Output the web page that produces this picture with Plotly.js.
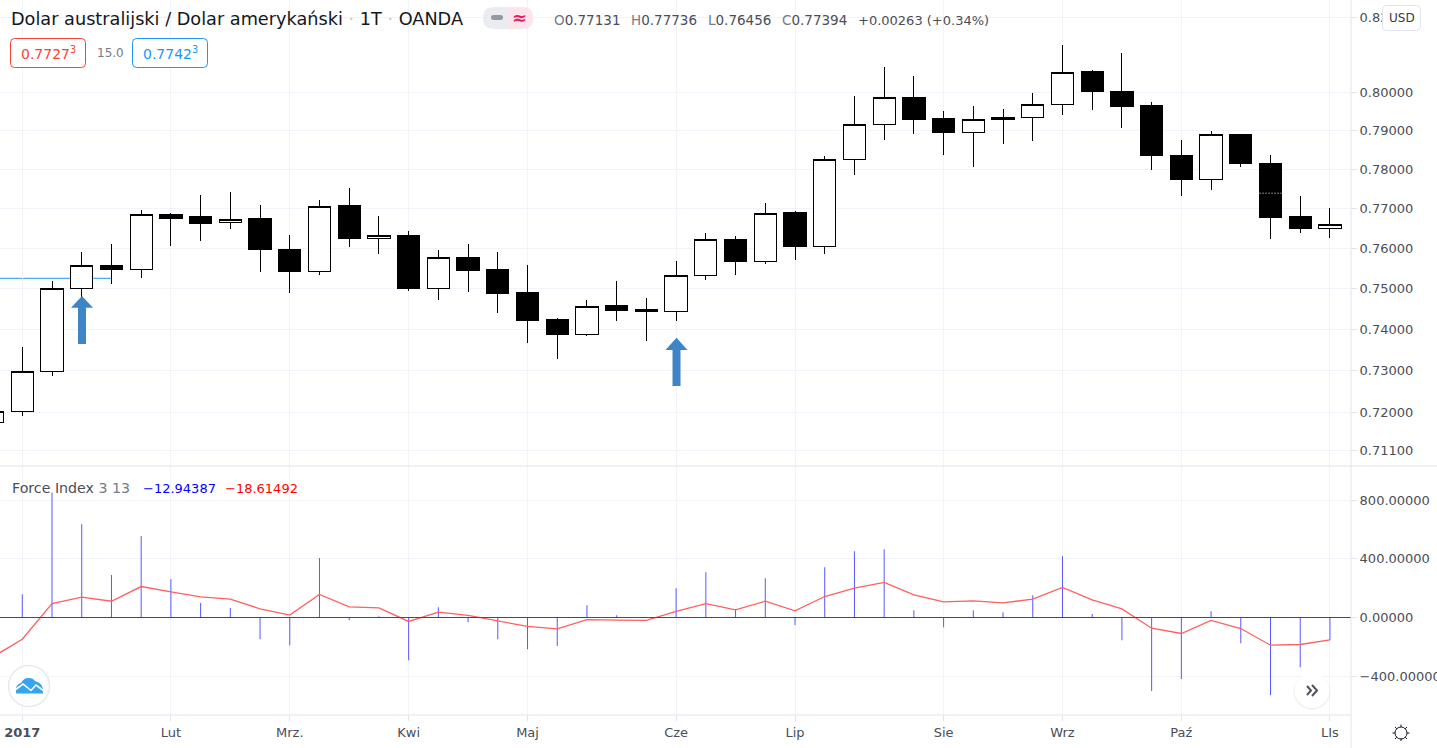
<!DOCTYPE html>
<html><head><meta charset="utf-8">
<script src="https://cdn.plot.ly/plotly-3.0.1.min.js"></script>
<style>html,body{margin:0;padding:0;background:#fff;overflow:hidden}#c{width:1437px;height:748px}.boxlayer path{shape-rendering:crispEdges}</style>
</head><body><div id="c"></div>
<script>
const weeks=["2016-12-26","2017-01-02","2017-01-09","2017-01-16","2017-01-23","2017-01-30","2017-02-06","2017-02-13","2017-02-20","2017-02-27","2017-03-06","2017-03-13","2017-03-20","2017-03-27","2017-04-03","2017-04-10","2017-04-17","2017-04-24","2017-05-01","2017-05-08","2017-05-15","2017-05-22","2017-05-29","2017-06-05","2017-06-12","2017-06-19","2017-06-26","2017-07-03","2017-07-10","2017-07-17","2017-07-24","2017-07-31","2017-08-07","2017-08-14","2017-08-21","2017-08-28","2017-09-04","2017-09-11","2017-09-18","2017-09-25","2017-10-02","2017-10-09","2017-10-16","2017-10-23","2017-10-30","2017-11-06"];
const opens=[.7176,.7201,.7298,.7500,.7558,.7547,.7686,.7679,.7665,.7674,.7598,.7542,.7707,.7624,.7631,.7500,.7578,.7546,.7489,.7424,.7387,.7457,.7447,.7444,.7533,.7623,.7567,.7689,.7605,.7826,.7917,.7988,.7931,.7896,.7930,.7935,.7969,.8055,.8004,.7965,.7837,.7775,.7891,.7816,.7679,.7650];
const highs=[.7210,.7357,.7518,.7591,.7611,.7696,.7688,.7734,.7742,.7709,.7633,.7722,.7752,.7681,.7644,.7596,.7611,.7591,.7558,.7427,.7471,.7518,.7476,.7568,.7638,.7631,.7714,.7695,.7835,.7991,.8068,.8044,.7952,.7965,.7957,.7999,.8127,.8059,.8105,.7975,.7876,.7899,.7891,.7837,.7732,.7701];
const lows=[.7170,.7192,.7287,.7457,.7512,.7527,.7605,.7619,.7649,.7541,.7489,.7534,.7604,.7586,.7494,.7471,.7492,.7440,.7367,.7328,.7383,.7421,.7372,.7421,.7522,.7534,.7561,.7571,.7586,.7786,.7877,.7892,.7838,.7807,.7866,.7872,.7942,.7955,.7908,.7799,.7733,.7748,.7807,.7624,.7639,.7626];
const closes=[.7202,.7298,.7500,.7557,.7546,.7685,.7676,.7663,.7673,.7596,.7541,.7706,.7624,.7631,.7499,.7577,.7544,.7487,.7421,.7386,.7456,.7445,.7443,.7533,.7622,.7566,.7688,.7604,.7826,.7917,.7987,.7929,.7895,.7930,.7935,.7969,.8054,.8002,.7963,.7835,.7773,.7891,.7815,.7677,.7649,.7660];
const forceIdx=[null,159,852,636,289,555,261,98,64,-148,-189,405,-18,9,-291,70,-32,-148,-216,-195,84,16,2,200,309,55,268,-52,343,452,466,50,-66,50,36,152,418,23,-155,-502,-420,43,-175,-530,-339,-155];
const forceEma=[-270,-148,95,139,111,211,175,141,125,59,16,157,73,66,-27,36,14,-25,-61,-77,-14,-18,-20,41,95,52,111,45,143,200,239,155,107,114,100,125,205,120,59,-73,-109,-20,-75,-189,-184,-152];
const monthTicks=["2017-01-02","2017-02-06","2017-03-06","2017-04-03","2017-05-01","2017-06-05","2017-07-03","2017-08-07","2017-09-04","2017-10-02","2017-11-06"];
const monthLabels=["<b>2017</b>","Lut","Mrz.","Kwi","Maj","Cze","Lip","Sie","Wrz","Paź","LIs"];
const priceTicks=[.82,.80,.79,.78,.77,.76,.75,.74,.73,.72,.711];
const priceLabels=["0.82000","0.80000","0.79000","0.78000","0.77000","0.76000","0.75000","0.74000","0.73000","0.72000","0.71100"];
const forceTicks=[800,400,0,-400];
const forceLabels=["800.00000","400.00000","0.00000","−400.00000"];

const F='"DejaVu Sans",sans-serif',W=1351,H=715;
const fx=x=>x/W, fy=y=>1-y/H;
const P=(x,y)=>fx(x)+','+fy(y);
const note=(x,y,text,size,color,anchor)=>({xref:'paper',yref:'paper',x:fx(x),y:fy(y),text,showarrow:false,xanchor:anchor||'left',yanchor:'middle',font:{family:F,size,color},borderpad:0});
const rrect=(x0,y0,x1,y1,r)=>'M'+P(x0+r,y0)+'L'+P(x1-r,y0)+'Q'+P(x1,y0)+' '+P(x1,y0+r)+'L'+P(x1,y1-r)+'Q'+P(x1,y1)+' '+P(x1-r,y1)+'L'+P(x0+r,y1)+'Q'+P(x0,y1)+' '+P(x0,y1-r)+'L'+P(x0,y0+r)+'Q'+P(x0,y0)+' '+P(x0+r,y0)+'Z';
const pathShape=(path,fill,lineColor,lw,extra)=>Object.assign({type:'path',xref:'paper',yref:'paper',path,fillcolor:fill,line:{color:lineColor||'rgba(0,0,0,0)',width:lw||0},layer:'above'},extra||{});
const circ=(cx,cy,r,fill,lineColor,lw)=>({type:'circle',xref:'paper',yref:'paper',x0:fx(cx-r),x1:fx(cx+r),y0:fy(cy+r),y1:fy(cy-r),fillcolor:fill,line:{color:lineColor||'rgba(0,0,0,0)',width:lw||0},layer:'above'});
const arrow=(cx,tip,base,bottom,hw,sw)=>pathShape('M'+P(cx,tip)+'L'+P(cx+hw,base)+'L'+P(cx+sw,base)+'L'+P(cx+sw,bottom)+'L'+P(cx-sw,bottom)+'L'+P(cx-sw,base)+'L'+P(cx-hw,base)+'Z','#3d85c6');

const gray='#787b86',ink='#4a4e58',dark='#131722';
const anns=[
 note(10,19,'Dolar australijski / Dolar amerykański <span style="color:#c5c8d0">·</span> 1T <span style="color:#c5c8d0">·</span> OANDA',17.7,dark),
 note(48,53,'0.7727<sup>3</sup>',14,'#f44336','center'),
 note(110,53.5,'15.0',12,gray,'center'),
 note(170,53,'0.7742<sup>3</sup>',14,'#2196f3','center'),
 note(519,18,'<b>≈</b>',18,'#e91e63','center'),
 note(553,20,'<span style="color:#787b86">O</span>0.77131',13.5,ink),
 note(630,20,'<span style="color:#787b86">H</span>0.77736',13.5,ink),
 note(707,20,'<span style="color:#787b86">L</span>0.76456',13.5,ink),
 note(781,20,'<span style="color:#787b86">C</span>0.77394',13.5,ink),
 note(857,20,'+0.00263 (+0.34%)',13,ink),
 note(11,488,'Force Index <span style="color:#787b86">3 13</span>',14.2,ink),
 note(142,488,'−12.94387',13,'#0000ff'),
 note(224,488,'−18.61492',13,'#ff0000'),
 note(1401.5,18,'USD',12,'#363a45','center')
];
const sun=[];
for(const [a,b,c,d] of [[1401,724.5,1401,727],[1401,738.5,1401,741],[1392.5,733,1395,733],[1407,733,1409.5,733],[1395,727,1396.8,728.8],[1405.2,737.2,1407,739],[1395,739,1396.8,737.2],[1405.2,728.8,1407,727]])
 sun.push(pathShape('M'+P(a,b)+'L'+P(c,d),'rgba(0,0,0,0)','#131722',1));
const shapes=[
 {type:'line',xref:'x',yref:'y',x0:'2016-12-26',x1:'2017-01-23',y0:.7525,y1:.7525,line:{color:'#2196f3',width:1},layer:'below'},
 {type:'line',xref:'x',yref:'y',x0:'2017-10-20 10:00',x1:'2017-10-25 14:00',y0:.7739,y1:.7739,line:{color:'#ffffff',width:1,dash:'1px,2px'},layer:'above'},
 {type:'line',xref:'paper',yref:'y2',x0:0,x1:1,y0:0,y1:0,line:{color:'#008000',width:1},layer:'above'},
 {type:'line',xref:'paper',yref:'paper',x0:0,x1:1437/W,y0:fy(466),y1:fy(466),line:{color:'#e0e3eb',width:1},layer:'above'},
 {type:'line',xref:'paper',yref:'paper',x0:fx(1351),x1:fx(1351),y0:1,y1:fy(748),line:{color:'#e0e3eb',width:1},layer:'above'},
 {type:'line',xref:'paper',yref:'paper',x0:0,x1:fx(1351),y0:fy(715),y1:fy(715),line:{color:'#e0e3eb',width:1},layer:'above'},
 arrow(82,296,307.7,344,11,4),
 arrow(676.5,337.7,350,386,11,4),
 pathShape(rrect(10.5,38.5,85.5,67.5,4),'#fff','#f44336',1),
 pathShape(rrect(132.5,38.5,207.5,67.5,4),'#fff','#2196f3',1),
 pathShape(rrect(483,7,533,29,11),'#ebecef'),
 pathShape('M'+P(508,7)+'L'+P(522,7)+'Q'+P(533,7)+' '+P(533,18)+'Q'+P(533,29)+' '+P(522,29)+'L'+P(508,29)+'Z','#fce4ec'),
 pathShape(rrect(491,15,503,20,2.5),'#9598a1'),
 pathShape(rrect(1382.5,5.5,1420.5,30.5,4),'#fff','#e0e3eb',1),
 circ(29,686,20.5,'#fff','#e8e9ec',1.5),
 pathShape('M'+P(16,693.5)+'L'+P(16,688)+'Q'+P(17,684)+' '+P(21,683)+'Q'+P(24,677.5)+' '+P(29,678)+'Q'+P(33,678)+' '+P(35,681)+'Q'+P(42,683)+' '+P(43,689)+'L'+P(43,693.5)+'Z','#34a5ee'),
 pathShape('M'+P(15,690)+'L'+P(23,684)+'L'+P(31,690.5)+'L'+P(36,685)+'L'+P(44,691),'rgba(0,0,0,0)','#fff',1.6),
 circ(1312,691.5,18.5,'rgba(0,0,0,0.05)'),
 circ(1312,690.5,17.5,'#fff'),
 pathShape('M'+P(1307,686)+'L'+P(1311,690.5)+'L'+P(1307,695)+'M'+P(1312,685)+'L'+P(1317,690.5)+'L'+P(1312,696),'rgba(0,0,0,0)','#50535e',2),
 circ(1401,733,6,'rgba(0,0,0,0)','#131722',1)
].concat(sun);

const axisBase={gridcolor:'#f0f3fa',gridwidth:1,showline:false,ticks:'outside',ticklen:5,tickcolor:'#e0e3eb',tickwidth:1,tickfont:{family:F,size:13,color:ink}};
const data=[
 {type:'candlestick',x:weeks,open:opens,high:highs,low:lows,close:closes,xaxis:'x',yaxis:'y',whiskerwidth:0,
  increasing:{line:{color:'#000',width:1},fillcolor:'#fff'},decreasing:{line:{color:'#000',width:1},fillcolor:'#000'},hoverinfo:'skip'},
 {type:'bar',x:weeks,y:forceIdx,width:20350000,xaxis:'x',yaxis:'y2',marker:{color:'rgba(85,85,255,0.99)',line:{width:0}},hoverinfo:'skip'},
 {type:'scatter',mode:'lines',x:weeks,y:forceEma,xaxis:'x',yaxis:'y2',line:{color:'#ff5f5f',width:1.3},hoverinfo:'skip'}
];
const layout={
 width:1437,height:748,margin:{l:0,r:86,t:0,b:33,pad:0},paper_bgcolor:'#fff',plot_bgcolor:'#fff',showlegend:false,boxgap:0.25,boxgroupgap:0,
 xaxis:Object.assign({},axisBase,{type:'date',anchor:'y2',range:['2016-12-27 18:00','2017-11-10 23:00'],tickmode:'array',tickvals:monthTicks,ticktext:monthLabels,rangeslider:{visible:false},zeroline:false,tickangle:0}),
 yaxis:Object.assign({},axisBase,{type:'log',side:'right',domain:[(H-466)/H,1],range:[-0.15035,-0.08367],tickmode:'array',tickvals:priceTicks,ticktext:priceLabels,zeroline:false,anchor:'x'}),
 yaxis2:Object.assign({},axisBase,{type:'linear',side:'right',domain:[0,(H-467)/H],range:[-664.8,1026.1],tickmode:'array',tickvals:forceTicks,ticktext:forceLabels,zeroline:false,anchor:'x'}),
 annotations:anns,shapes:shapes,hovermode:false,dragmode:false
};
Plotly.newPlot('c',data,layout,{displayModeBar:false});
</script></body></html>
